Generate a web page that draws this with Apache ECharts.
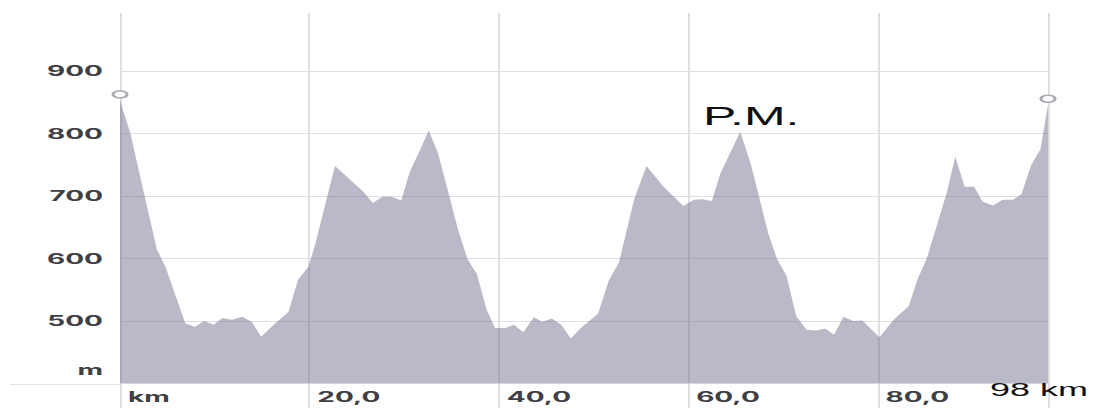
<!DOCTYPE html>
<html><head><meta charset="utf-8">
<script src="https://cdn.jsdelivr.net/npm/echarts@6/dist/echarts.min.js"></script>
<style>
html,body{margin:0;padding:0;background:#fff;overflow:hidden;width:1100px;height:408px}
#chart{width:550px;height:408px;transform:scaleX(2);transform-origin:0 0}
</style></head><body><div id="chart"></div>
<script>
const distanceKm = [0, 1.1, 2.6, 3.9, 4.8, 6.9, 7.9, 8.9, 9.9, 10.8, 11.8, 12.9, 13.9, 14.9, 16.0,
  17.8, 18.8, 19.9, 20.6, 22.7, 25.7, 26.7, 27.7, 28.7, 29.7, 30.6, 31.7, 32.6, 33.6, 34.6,
  35.7, 36.7, 37.7, 38.7, 39.6, 40.7, 41.6, 42.6, 43.7, 44.6, 45.6, 46.6, 47.6, 48.6, 50.5,
  51.6, 52.7, 54.3, 55.6, 57.4, 59.5, 60.6, 61.5, 62.5, 63.4, 65.5, 66.6, 68.5, 69.4, 70.4,
  71.4, 72.5, 73.5, 74.5, 75.4, 76.4, 77.4, 78.4, 80.2, 81.7, 83.3, 84.2, 85.2, 87.3, 88.2,
  89.2, 90.2, 91.1, 92.2, 93.2, 94.3, 95.2, 96.2, 97.2, 98.0];
const elevationM = [853, 800, 700, 614, 587, 496, 491, 500, 494, 505, 502, 507, 499, 475, 491,
  515, 566, 587, 622, 748, 707, 689, 699, 699, 693, 739, 774, 805, 768, 710,
  646, 599, 575, 519, 489, 489, 494, 482, 506, 499, 504, 494, 472, 488, 512,
  564, 594, 695, 748, 715, 684, 694, 695, 692, 736, 803, 752, 638, 599, 572,
  508, 486, 485, 488, 478, 507, 500, 501, 474, 502, 524, 566, 600, 705, 763,
  715, 715, 691, 685, 694, 694, 703, 749, 775, 846];

const xTickValues = [0, 20, 40, 60, 80];
const xTickLabels = ['km', '20,0', '40,0', '60,0', '80,0'];
const routeLengthKm = 98;
const endLabel = '98 km';
const yTickValues = [400, 500, 600, 700, 800, 900];
const yTickLabels = ['m', '500', '600', '700', '800', '900'];
const summitKm = 65.5;
const summitLabel = 'P.M.';

const gridColor = '#dedee5';
const labelColor = '#3f3f44';
const labelFont = 'Inter, "Liberation Sans", sans-serif';

const chart = echarts.init(document.getElementById('chart'), null, {renderer: 'svg'});
const points = distanceKm.map((d, i) => [d, elevationM[i]]);
const last = points.length - 1;
const summitIdx = distanceKm.indexOf(summitKm);

chart.setOption({
  animation: false,
  grid: {left: 60, right: 26, top: 12.875, bottom: 24.5},
  xAxis: [{
    type: 'value', min: 0, max: routeLengthKm, interval: 20,
    axisLine: {show: true, onZero: false, lineStyle: {color: '#e2e2ea', width: 1}},
    axisTick: {show: true, length: 25, lineStyle: {color: gridColor, width: 1}},
    splitLine: {show: true, lineStyle: {color: gridColor, width: 1}},
    axisLabel: {
      formatter: v => { const i = xTickValues.indexOf(v); return i < 0 ? '' : xTickLabels[i]; },
      align: 'left', padding: [0, 0, 0, 4], margin: 6,
      fontFamily: labelFont, fontWeight: 'bold', fontSize: 14, color: labelColor
    }
  }, {
    type: 'value', min: 0, max: routeLengthKm, interval: routeLengthKm, position: 'bottom',
    axisLine: {show: false}, axisTick: {show: false}, splitLine: {show: false},
    axisLabel: {
      formatter: v => v === routeLengthKm ? endLabel : '',
      align: 'center', margin: -3, padding: [0, 9, 0, 0],
      fontFamily: '"Liberation Sans", Arial, sans-serif', fontSize: 18, color: '#111'
    }
  }],
  yAxis: {
    type: 'value', min: 400, max: 993, interval: 100,
    axisLine: {show: false}, axisTick: {show: false},
    splitLine: {show: true, showMinLine: false, showMaxLine: false, lineStyle: {color: gridColor, width: 1}},
    axisLabel: {
      formatter: v => {
        const i = yTickValues.indexOf(v);
        if (i < 0) return '';
        return i === 0 ? '{u|' + yTickLabels[0] + '}' : yTickLabels[i];
      },
      margin: 8.5,
      fontFamily: labelFont, fontWeight: 'bold', fontSize: 14, color: labelColor,
      rich: {u: {padding: [0, 0, 27, 0], fontFamily: labelFont, fontWeight: 'bold', fontSize: 14, color: labelColor}}
    }
  },
  series: [{
    type: 'line', data: points, xAxisIndex: 0, yAxisIndex: 0,
    symbol: 'none', smooth: false,
    lineStyle: {width: 0},
    areaStyle: {color: 'rgba(108,108,138,0.48)', opacity: 1, origin: 'start'},
    markPoint: {
      silent: true,
      data: [
        {coord: points[0], symbol: 'circle', symbolSize: 7, symbolOffset: [0, -6],
          itemStyle: {color: '#fff', borderColor: '#a8a8b2', borderWidth: 1.5}, label: {show: false}},
        {coord: points[last], symbol: 'circle', symbolSize: 7, symbolOffset: [0, -6],
          itemStyle: {color: '#fff', borderColor: '#a8a8b2', borderWidth: 1.5}, label: {show: false}},
        {coord: points[summitIdx], symbol: 'circle', symbolSize: 0,
          label: {show: true, position: 'top', distance: 3, offset: [5.5, 0], formatter: summitLabel,
            fontFamily: '"Liberation Sans", Arial, sans-serif', fontSize: 25, color: '#111'}}
      ]
    }
  }]
});

const p0 = chart.convertToPixel({xAxisIndex: 0, yAxisIndex: 0}, [0, yTickValues[0]]);
chart.setOption({
  graphic: [{type: 'line', silent: true, shape: {x1: 5, y1: Math.round(p0[1]) + 0.5, x2: p0[0], y2: Math.round(p0[1]) + 0.5},
    style: {stroke: '#e2e2ea', lineWidth: 1}}]
});
</script></body></html>
